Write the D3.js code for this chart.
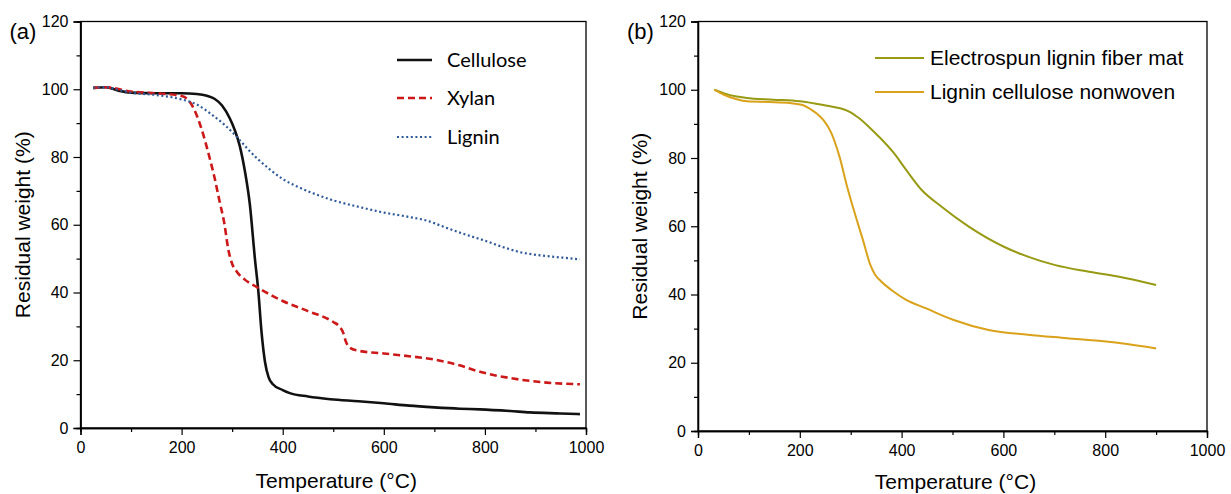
<!DOCTYPE html>
<html lang="en">
<head>
  <meta charset="UTF-8">
  <title>TGA curves</title>
  <style>
    body { margin: 0; background: #fff; }
    text { font-family: "Liberation Sans", Arial, sans-serif; fill: #000; }
  </style>
</head>
<body>
  <svg id="svg" width="1231" height="494"></svg>

  <script src="https://d3js.org/d3.v7.min.js"></script>
  <script>
    // panel (a) series
    const celluloseT = [25, 50, 75, 100, 150, 200, 230, 250, 265, 280, 295, 305, 315, 325, 335, 345, 352, 358, 365, 372, 380, 400, 414, 450, 494, 550, 600, 650, 700, 750, 790, 850, 889, 950, 988]
    const celluloseW = [100.4, 100.6, 99.6, 99.0, 98.8, 98.8, 98.6, 98.1, 97.2, 95.2, 91.5, 88.0, 83.3, 76.0, 66.0, 50.0, 40.0, 28.5, 19.5, 15.0, 13.0, 11.2, 10.3, 9.3, 8.5, 7.9, 7.3, 6.6, 6.1, 5.7, 5.5, 5.0, 4.6, 4.3, 4.1]
    const xylanT = [25, 50, 100, 150, 200, 215, 225, 240, 255, 265, 275, 285, 292, 300, 310, 325, 350, 400, 450, 500, 512, 520, 525, 535, 550, 600, 650, 700, 750, 790, 856, 922, 988]
    const xylanW = [100.4, 100.6, 99.3, 98.8, 98.0, 96.5, 94.0, 88.0, 80.0, 74.0, 67.0, 60.0, 53.0, 48.5, 46.0, 43.8, 41.5, 37.5, 34.5, 31.3, 30.0, 28.0, 25.5, 23.5, 22.8, 22.0, 21.2, 20.2, 18.5, 16.6, 14.6, 13.4, 12.9]
    const ligninT = [25, 50, 75, 100, 150, 200, 230, 260, 285, 310, 330, 350, 375, 400, 430, 460, 500, 550, 600, 650, 690, 720, 760, 800, 840, 870, 920, 960, 988]
    const ligninW = [100.4, 100.6, 99.8, 99.0, 98.3, 97.0, 95.5, 92.5, 89.5, 85.8, 82.5, 79.5, 76.3, 73.5, 71.2, 69.3, 67.2, 65.3, 63.6, 62.3, 61.0, 59.3, 57.2, 55.3, 53.2, 51.9, 50.8, 50.2, 49.8]

    // panel (b) series
    const fiberT = [32, 50, 76, 95, 148, 200, 254, 279, 300, 316, 338, 355, 385, 409, 439, 478, 532, 601, 648, 702, 763, 825, 900]
    const fiberW = [100, 99.0, 98.0, 97.6, 97.1, 96.6, 95.3, 94.6, 93.4, 91.7, 88.8, 86.3, 81.4, 76.5, 70.7, 65.8, 59.9, 54.0, 51.1, 48.6, 46.8, 45.3, 42.8]
    const nonwovenT = [32, 50, 76, 96, 140, 181, 208, 222, 235, 247, 262, 278, 293, 308, 324, 339, 348, 360, 380, 409, 447, 501, 571, 648, 725, 802, 900]
    const nonwovenW = [100, 98.6, 97.2, 96.6, 96.4, 96.1, 95.4, 94.2, 92.8, 91.0, 87.3, 80.4, 71.6, 63.8, 56.0, 48.5, 45.8, 43.8, 41.3, 38.4, 36.0, 32.6, 29.6, 28.2, 27.2, 26.2, 24.2]

    const xTicks = [0, 200, 400, 600, 800, 1000]
    const yTicks = [0, 20, 40, 60, 80, 100, 120]

    const zip = (t, w) => t.map((d, i) => ({ t: d, w: w[i] }))

    const panels = [
      {
        tag: '(a)', left: 80.5, right: 586, top: 21.5, bottom: 428, titleY: 488,
        legendFont: 'Lato, "Open Sans", sans-serif', legendSize: 20,
        legendX1: 397, legendX2: 432, legendTx: 447, legendY: [60, 98, 137],
        series: [
          { name: 'Cellulose', data: zip(celluloseT, celluloseW), color: '#111', width: 2.6, dash: null },
          { name: 'Xylan', data: zip(xylanT, xylanW), color: '#cc1818', width: 2.6, dash: '7,4' },
          { name: 'Lignin', data: zip(ligninT, ligninW), color: '#2f5a9a', width: 2.2, dash: '2,2.6' }
        ]
      },
      {
        tag: '(b)', left: 698, right: 1207, top: 21.5, bottom: 431, titleY: 489,
        legendFont: '"Liberation Sans", Arial, sans-serif', legendSize: 21,
        legendX1: 875, legendX2: 924, legendTx: 930, legendY: [58, 92],
        series: [
          { name: 'Electrospun lignin fiber mat', data: zip(fiberT, fiberW), color: '#979a12', width: 2, dash: null },
          { name: 'Lignin cellulose nonwoven', data: zip(nonwovenT, nonwovenW), color: '#d9a21a', width: 2, dash: null }
        ]
      }
    ]

    const svg = d3.select('#svg')

    panels.forEach(p => {
      const x = d3.scaleLinear().domain([0, 1000]).range([p.left, p.right])
      const y = d3.scaleLinear().domain([0, 120]).range([p.bottom, p.top])
      const g = svg.append('g')

      // frame
      g.append('rect')
        .attr('x', p.left).attr('y', p.top)
        .attr('width', p.right - p.left).attr('height', p.bottom - p.top)
        .attr('fill', 'none').attr('stroke', '#000').attr('stroke-width', 1.3)

      // minor ticks
      const xMinor = d3.axisBottom(x).tickValues(d3.range(100, 1000, 200)).tickSize(4).tickFormat('')
      const yMinor = d3.axisLeft(y).tickValues(d3.range(10, 120, 20)).tickSize(4).tickFormat('')
      g.append('g').attr('transform', `translate(0,${p.bottom})`).call(xMinor)
      g.append('g').attr('transform', `translate(${p.left},0)`).call(yMinor)

      const xAxis = d3.axisBottom(x).tickValues(xTicks).tickSize(7).tickPadding(7).tickFormat(d3.format('d'))
      const yAxis = d3.axisLeft(y).tickValues(yTicks).tickSize(7).tickPadding(5).tickFormat(d3.format('d'))
      g.append('g').attr('transform', `translate(0,${p.bottom})`).call(xAxis)
      g.append('g').attr('transform', `translate(${p.left},0)`).call(yAxis)

      g.selectAll('.domain').attr('stroke', '#000').attr('stroke-width', 1.3)
      g.selectAll('.tick line').attr('stroke', '#000').attr('stroke-width', 1.2)
      g.selectAll('.tick text')
        .attr('font-family', '"Liberation Sans", Arial, sans-serif')
        .attr('font-size', 16).attr('fill', '#000')

      // curves
      const line = d3.line().x(d => x(d.t)).y(d => y(d.w)).curve(d3.curveMonotoneX)
      p.series.forEach(s => {
        g.append('path')
          .datum(s.data)
          .attr('d', line)
          .attr('fill', 'none')
          .attr('stroke', s.color)
          .attr('stroke-width', s.width)
          .attr('stroke-dasharray', s.dash)
      })

      // legend
      p.series.forEach((s, i) => {
        g.append('line')
          .attr('x1', p.legendX1).attr('x2', p.legendX2)
          .attr('y1', p.legendY[i]).attr('y2', p.legendY[i])
          .attr('stroke', s.color).attr('stroke-width', s.width)
          .attr('stroke-dasharray', s.dash)
        g.append('text')
          .attr('x', p.legendTx).attr('y', p.legendY[i])
          .attr('dy', '0.35em')
          .style('font-family', p.legendFont)
          .attr('font-size', p.legendSize)
          .text(s.name)
      })

      // titles
      g.append('text')
        .attr('x', (p.left + p.right) / 2 + 3).attr('y', p.titleY)
        .attr('text-anchor', 'middle').attr('font-size', 21)
        .text('Temperature (°C)')
      g.append('text')
        .attr('transform', `translate(${p.left - 51},${(p.top + p.bottom) / 2}) rotate(-90)`)
        .attr('text-anchor', 'middle').attr('font-size', 21)
        .text('Residual weight (%)')
      g.append('text')
        .attr('x', p.left - 71).attr('y', 39)
        .attr('font-size', 22)
        .text(p.tag)
    })
  </script>
</body>
</html>
